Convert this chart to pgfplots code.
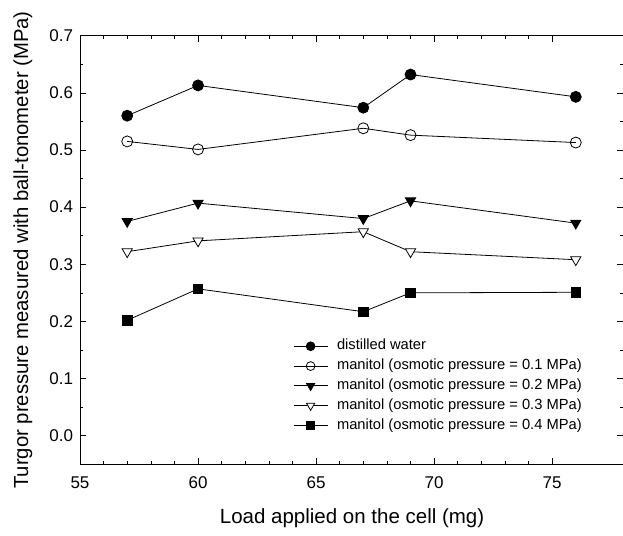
\documentclass[border=0pt]{standalone}
\usepackage{fontspec}
\setmainfont{Liberation Sans}
\usepackage{pgfplots}
\pgfplotsset{compat=1.18}

\begin{document}
\begin{tikzpicture}
\begin{axis}[
    scale only axis,
    width=543pt, height=428.6pt,
    xmin=55, xmax=78,
    ymin=-0.05, ymax=0.7,
    xtick={55,60,65,70,75},
    ytick={0,0.1,0.2,0.3,0.4,0.5,0.6,0.7},
    minor x tick num=4,
    minor y tick num=1,
    tick align=inside,
    major tick length=6pt,
    minor tick length=3.5pt,
    tick style={black, line width=0.6pt},
    axis line style={line width=0.9pt},
    yticklabel style={/pgf/number format/fixed, /pgf/number format/fixed zerofill, /pgf/number format/precision=1},
    /pgf/number format/assume math mode=true,
    ticklabel style={font=\fontsize{17}{19}\selectfont},
    xticklabel style={yshift=-9pt},
    yticklabel style={xshift=-3.5pt},
    xlabel={Load applied on the cell (mg)},
    ylabel={Turgor pressure measured with ball-tonometer (MPa)},
    xlabel style={font=\fontsize{20.5}{23}\selectfont, at={(rel axis cs:0.501,-0.125)}, anchor=center},
    ylabel style={font=\fontsize{20.3}{22}\selectfont, at={(rel axis cs:-0.105,0.5)}, anchor=center},
    legend style={draw=none, fill=none, at={(rel axis cs:0.3923,0.2924)}, anchor=north west,
        font=\fontsize{14.7}{16}\selectfont, inner sep=0pt, row sep=5.6pt, column sep=9pt,
        nodes={inner sep=0pt, text height=10.7pt, text depth=3.5pt}},
    legend cell align=left,
    legend image code/.code={\draw[mark repeat=2,mark phase=2] plot coordinates {(0pt,0pt)(17pt,0pt)(34pt,0pt)};},
    legend image post style={every mark/.append style={scale=0.8}},
    every axis plot/.append style={black, line width=0.8pt},
]
\addplot[mark=*, mark size=5.5pt] coordinates {
    (57,0.560)(60,0.613)(67,0.574)(69,0.632)(76,0.593)};
\addlegendentry{distilled water}
\addplot[mark=o, mark size=5.5pt, mark options={fill=white}] coordinates {
    (57,0.515)(60,0.501)(67,0.538)(69,0.526)(76,0.513)};
\addlegendentry{manitol (osmotic pressure = 0.1 MPa)}
\addplot[mark=triangle*, mark size=5.9pt, mark options={rotate=180}] coordinates {
    (57,0.375)(60,0.407)(67,0.380)(69,0.411)(76,0.372)};
\addlegendentry{manitol (osmotic pressure = 0.2 MPa)}
\addplot[mark=triangle*, mark size=5.9pt, mark options={rotate=180, fill=white}] coordinates {
    (57,0.322)(60,0.341)(67,0.357)(69,0.322)(76,0.308)};
\addlegendentry{manitol (osmotic pressure = 0.3 MPa)}
\addplot[mark=square*, mark size=4.7pt] coordinates {
    (57,0.202)(60,0.257)(67,0.217)(69,0.250)(76,0.251)};
\addlegendentry{manitol (osmotic pressure = 0.4 MPa)}
\end{axis}
\pgfresetboundingbox
\path ([xshift=-80pt,yshift=-71.7pt]current axis.south west) rectangle ([yshift=35.7pt]current axis.north east);
\end{tikzpicture}
\end{document}
